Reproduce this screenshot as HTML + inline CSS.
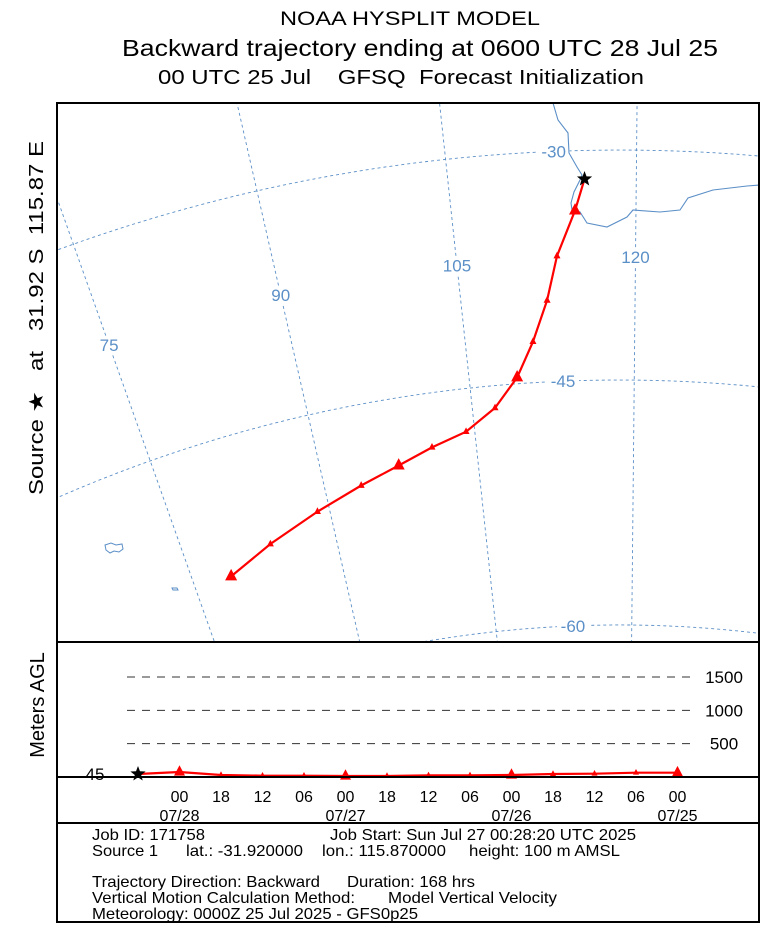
<!DOCTYPE html>
<html><head><meta charset="utf-8">
<style>
html,body{margin:0;padding:0;background:#fff;width:782px;height:930px;overflow:hidden;}
svg{display:block;font-family:"Liberation Sans",sans-serif;}
text{white-space:pre;}
</style></head>
<body>
<svg id="chart" width="782" height="930" viewBox="0 0 782 930" xmlns="http://www.w3.org/2000/svg" xml:space="preserve">
<g>
<text x="410" y="25" font-size="19" text-anchor="middle" textLength="260" lengthAdjust="spacingAndGlyphs">NOAA HYSPLIT MODEL</text>
<text x="420" y="56" font-size="23" text-anchor="middle" textLength="596" lengthAdjust="spacingAndGlyphs">Backward trajectory ending at 0600 UTC 28 Jul 25</text>
<text x="401" y="84" font-size="20" text-anchor="middle" textLength="486" lengthAdjust="spacingAndGlyphs">00 UTC 25 Jul    GFSQ  Forecast Initialization</text>
</g>
<defs><clipPath id="mapclip"><rect x="57" y="103" width="702" height="539"/></clipPath></defs>
<g id="map" clip-path="url(#mapclip)"></g>
<g id="heights"></g>
<g fill="none" stroke="#000">
<rect x="57" y="103" width="702" height="819" stroke-width="2"/>
<line x1="57" y1="642" x2="759" y2="642" stroke-width="2"/>
<line x1="57" y1="777" x2="759" y2="777" stroke-width="2"/>
<line x1="57" y1="823" x2="759" y2="823" stroke-width="2"/>
</g>
<text transform="translate(43,318) rotate(-90)" font-size="20" text-anchor="middle" textLength="354" lengthAdjust="spacingAndGlyphs">Source ★   at   31.92 S  115.87 E</text>
<text transform="translate(44,705) rotate(-90)" font-size="20" text-anchor="middle">Meters AGL</text>
<g font-size="16">
<text x="92" y="840" textLength="113" lengthAdjust="spacingAndGlyphs">Job ID: 171758</text>
<text x="330" y="840" textLength="306" lengthAdjust="spacingAndGlyphs">Job Start: Sun Jul 27 00:28:20 UTC 2025</text>
<text x="92" y="856" textLength="66" lengthAdjust="spacingAndGlyphs">Source 1</text>
<text x="186" y="856" textLength="117" lengthAdjust="spacingAndGlyphs">lat.: -31.920000</text>
<text x="322" y="856" textLength="124" lengthAdjust="spacingAndGlyphs">lon.: 115.870000</text>
<text x="469" y="856" textLength="151" lengthAdjust="spacingAndGlyphs">height: 100 m AMSL</text>
<text x="92" y="887" textLength="228" lengthAdjust="spacingAndGlyphs">Trajectory Direction: Backward</text>
<text x="347" y="887" textLength="128" lengthAdjust="spacingAndGlyphs">Duration: 168 hrs</text>
<text x="92" y="903" textLength="263" lengthAdjust="spacingAndGlyphs">Vertical Motion Calculation Method:</text>
<text x="388" y="903" textLength="169" lengthAdjust="spacingAndGlyphs">Model Vertical Velocity</text>
<text x="92" y="919" textLength="326" lengthAdjust="spacingAndGlyphs">Meteorology: 0000Z 25 Jul 2025 - GFS0p25</text>
</g>
</svg>
<script>
// ---- data ----
const trajLons = [115.87,115.04,113.42,112.41,110.98,109.35,107.1,104.18,100.8,97.4,93.5,88.8,83.5,78.8];
const trajLats = [-31.92,-34.0,-36.95,-39.8,-42.4,-44.6,-46.4,-47.7,-48.4,-49.2,-50.0,-51.0,-52.2,-53.4];
const trajHours = [0,6,12,18,24,30,36,42,48,54,60,66,72,78];
const trajHeights = [45,75,30,20,20,15,15,25,25,30,45,50,65,65];
const gridLons = [45,60,75,90,105,120,135,150];
const gridLats = [-15,-30,-45,-60,-75];
const lonLabels = [75,90,105,120];
const latLabels = [-30,-45,-60];
const heightTicks = [500,1000,1500];
const timeTickLabels = ["00","18","12","06","00","18","12","06","00","18","12","06","00"];
const timeTickHours = [6,12,18,24,30,36,42,48,54,60,66,72,78];
const dateLabels = ["07/28","07/27","07/26","07/25"];
const dateHours = [6,30,54,78];

const NS="http://www.w3.org/2000/svg";
function el(tag,attrs,parent){const e=document.createElementNS(NS,tag);for(const k in attrs)e.setAttribute(k,attrs[k]);parent.appendChild(e);return e;}
const CX=620,CY=1785,K=0.447,L0=118.7;
function rad(lat){const v=-lat-45;return 1405-15.83*v-0.0333*v*v;}
function proj(lon,lat){const a=(lon-L0)*K*Math.PI/180,r=rad(lat);return [CX+r*Math.sin(a),CY-r*Math.cos(a)];}
const map=document.getElementById('map');
const blue="#5b8fc7";
for(const lon of gridLons){const pts=[];for(let la=-5;la>=-85;la-=2)pts.push(proj(lon,la).join(','));
 const p=el('polyline',{points:pts.join(' '),fill:'none',stroke:blue,'stroke-width':0.9,'stroke-dasharray':'3,3'},map);
 
 }
for(const lat of gridLats){const pts=[];for(let lo=30;lo<=200;lo+=2)pts.push(proj(lo,lat).join(','));
 const p=el('polyline',{points:pts.join(' '),fill:'none',stroke:blue,'stroke-width':0.9,'stroke-dasharray':'3,3'},map);
 
 }
for(const lon of lonLabels){const [x,y]=proj(lon,-37.1);
 const bg=el('rect',{x:x-16,y:y-9,width:32,height:18,fill:'#fff'},map);
 
 
 const t=el('text',{x:x,y:y+6,'font-size':17,fill:blue,'text-anchor':'middle'},map);t.textContent=lon;
 
 }
for(const lat of latLabels){const [x,y]=proj(113.5,lat);
 const bg=el('rect',{x:x-16,y:y-9,width:32,height:18,fill:'#fff'},map);
 
 
 const t=el('text',{x:x,y:y+6,'font-size':17,fill:blue,'text-anchor':'middle'},map);t.textContent=lat;
 
 }
const coast1="553,103 558,120 568,133 569,153 577,167 582,175 580,180 574,192 571,203 572,210 580,212 587,223 607,227 627,217 633,210 660,212 680,210 688,198 713,190 747,186 760,185";
const c=el('polyline',{points:coast1,fill:'none',stroke:blue,'stroke-width':1.1},map);


const isl=el('path',{d:'M105,545 l6,-2 l5,2 l6,-1 l1,5 l-4,3 l-5,-1 l-4,2 l-4,-3 z M172,588 l5,0 l1,2 l-5,0 z',fill:'none',stroke:blue,'stroke-width':1},map);


const tp=trajLons.map((lo,i)=>proj(lo,trajLats[i]));
const line=el('polyline',{points:tp.map(p=>p.join(',')).join(' '),fill:'none',stroke:'#ff0000','stroke-width':2.2},map);


function tri(x,y,s,parent,name){const h=s*0.95;const t=el('polygon',{points:`${x},${y-h*0.65} ${x-s/2},${y+h*0.35} ${x+s/2},${y+h*0.35}`,fill:'#ff0000'},parent);
 
 }
function star(x,y,r,parent,name){const pts=[];for(let i=0;i<10;i++){const rr=i%2?r*0.42:r;const a=-Math.PI/2+i*Math.PI/5;pts.push((x+rr*Math.cos(a))+','+(y+rr*Math.sin(a)));}
 const s=el('polygon',{points:pts.join(' '),fill:'#000'},parent);
 
 }
for(let i=1;i<tp.length;i++){tri(tp[i][0],tp[i][1],(trajHours[i]%24===6)?12:7,map,'trajectory-marker-'+i);}
star(tp[0][0],tp[0][1],8,map,'source-star');
const hp=document.getElementById('heights');
const X0=138,DX=41.5/6,Y0=777,DY=33.33/500;
const xs=h=>X0+h*DX, ys=v=>Y0-v*DY;
for(const h of heightTicks){
 const l=el('line',{x1:127,x2:690,y1:ys(h),y2:ys(h),stroke:'#333','stroke-width':1,'stroke-dasharray':'8,7'},hp);
 
 
 const t=el('text',{x:724,y:ys(h)+6,'font-size':17,'text-anchor':'middle'},hp);t.textContent=h;
 
 }
const h0=el('text',{x:95,y:Y0+3,'font-size':17,'text-anchor':'middle'},hp);h0.textContent=trajHeights[0];


const hl=el('polyline',{points:trajHours.map((t,i)=>xs(t)+','+ys(trajHeights[i])).join(' '),fill:'none',stroke:'#ff0000','stroke-width':2.2},hp);


for(let i=1;i<trajHours.length;i++){tri(xs(trajHours[i]),ys(trajHeights[i]),(trajHours[i]%24===6)?11:6,hp,'height-marker-'+i);}
star(xs(0),ys(trajHeights[0]),8,hp,'height-source-star');
timeTickHours.forEach((h,i)=>{const t=el('text',{x:xs(h),y:802,'font-size':16,'text-anchor':'middle'},hp);t.textContent=timeTickLabels[i];
 
 });
dateHours.forEach((h,i)=>{const t=el('text',{x:xs(h),y:821,'font-size':16,'text-anchor':'middle'},hp);t.textContent=dateLabels[i];
 
 });
</script>
</body></html>
